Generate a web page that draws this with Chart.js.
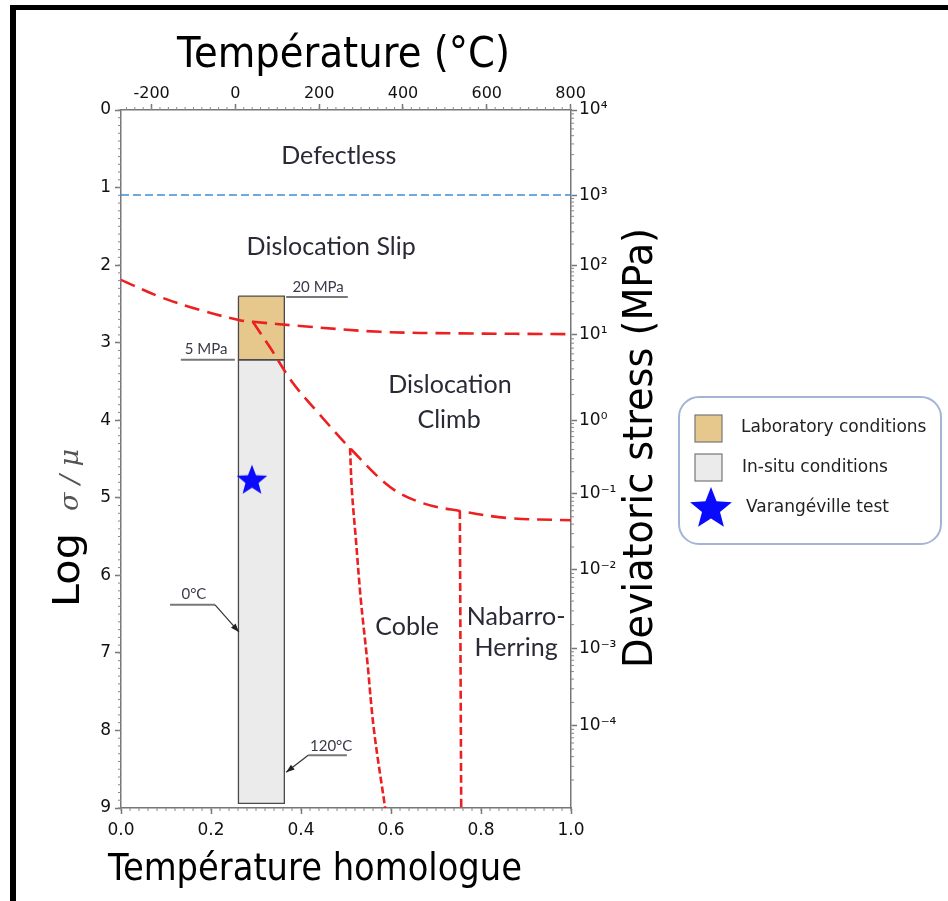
<!DOCTYPE html>
<html>
<head>
<meta charset="utf-8">
<script src="https://cdn.jsdelivr.net/npm/chart.js@4.4.1/dist/chart.umd.min.js"></script>
<style>
  html, body { margin: 0; padding: 0; background: #fff; overflow: hidden; }
  #wrap { width: 948px; height: 901px; position: relative; }
</style>
</head>
<body>
<div id="wrap"><canvas id="mapChart"></canvas></div>
<script>
// x = homologous temperature T/Tm, y = log(sigma/mu) (grows downwards)
const slipClimbT = [0, 0.087, 0.176, 0.264, 0.293, 0.398, 0.576, 0.753, 1.0];
const slipClimbLog = [2.19, 2.41, 2.58, 2.71, 2.73, 2.785, 2.86, 2.88, 2.89];

const climbDiffT = [0.293, 0.331, 0.382, 0.442, 0.509, 0.598, 0.671, 0.753, 0.858, 1.0];
const climbDiffLog = [2.73, 3.06, 3.52, 3.93, 4.36, 4.86, 5.07, 5.17, 5.26, 5.29];

const cobleT = [0.509, 0.513, 0.522, 0.533, 0.547, 0.562, 0.587];
const cobleLog = [4.36, 4.9, 5.54, 6.32, 7.09, 7.99, 9.0];

const nabarroT = [0.753, 0.756];
const nabarroLog = [5.17, 9.0];

const idealT = [0, 1.0];
const idealLog = [1.096, 1.096];

const labT = [0.261, 0.363];
const labLog = [2.40, 3.22];
const insituT = [0.261, 0.363];
const insituLog = [3.22, 8.94];

const testT = [0.291];
const testLog = [4.78];

const homTicks = [0, 0.2, 0.4, 0.6, 0.8, 1.0];
const meltK = 1074; // NaCl melting point, K
const tempTicks = [-200, 0, 200, 400, 600, 800];
const stressTickPos = [0, 1.1, 2.0, 2.9, 4.0, 4.95, 5.93, 6.94, 7.94];
const stressTickLabels = ["10⁴", "10³", "10²", "10¹", "10⁰", "10⁻¹", "10⁻²", "10⁻³", "10⁻⁴"];

// text placed on the map (data units)
const regionLabels = [
  { text: "Defectless", t: 0.484, v: 0.59 },
  { text: "Dislocation Slip", t: 0.467, v: 1.77 },
  { text: "Dislocation", t: 0.731, v: 3.55 },
  { text: "Climb", t: 0.729, v: 4.0 },
  { text: "Coble", t: 0.636, v: 6.67 },
  { text: "Nabarro-", t: 0.878, v: 6.54 },
  { text: "Herring", t: 0.878, v: 6.94 },
];
const notes = [
  { text: "20 MPa", t: 0.438, v: 2.29, from: 0.367, to: 0.504, lineV: 2.41 },
  { text: "5 MPa", t: 0.189, v: 3.09, from: 0.133, to: 0.253, lineV: 3.22 },
  { text: "0°C", t: 0.162, v: 6.24, from: 0.109, to: 0.209, lineV: 6.38, arrow: [0.209, 0.262, 6.73] },
  { text: "120°C", t: 0.467, v: 8.2, from: 0.416, to: 0.502, lineV: 8.32, arrow: [0.416, 0.367, 8.54] },
];

const pts = (ts, vs) => ts.map((t, i) => ({ x: t, y: vs[i] }));
const boxPts = (ts, vs) => [
  { x: ts[0], y: vs[0] }, { x: ts[1], y: vs[0] }, { x: ts[1], y: vs[1] },
  { x: ts[0], y: vs[1] }, { x: ts[0], y: vs[0] },
];

const makeStar = (r, color) => {
  const c = document.createElement("canvas");
  c.width = c.height = Math.ceil(r * 2 + 2);
  const g = c.getContext("2d");
  g.beginPath();
  for (let i = 0; i < 10; i++) {
    const rad = i % 2 ? r * 0.43 : r;
    const a = -Math.PI / 2 + (i * Math.PI) / 5;
    g.lineTo(c.width / 2 + rad * Math.cos(a), c.height / 2 + rad * Math.sin(a));
  }
  g.closePath();
  g.fillStyle = color;
  g.fill();
  return c;
};
const starBlue = "#0a0aff";
const chartStar = makeStar(16, starBlue);
const legendStar = makeStar(22, starBlue);

const red = "#ec2020";
const lineDs = (label, data, dash) => ({
  label, data, showLine: true, borderColor: red, borderWidth: 2.6,
  borderDash: dash, pointRadius: 0, tension: 0.35, fill: false, order: 1,
});

// --- plugins ---
const minorTicks = {
  id: "minorTicks",
  afterDraw(chart) {
    const { ctx, chartArea: a, scales } = chart;
    ctx.save();
    ctx.strokeStyle = "#888";
    ctx.lineWidth = 1;
    ctx.beginPath();
    for (let i = 0; i <= 50; i++) {
      const x = scales.x.getPixelForValue(i * 0.02);
      ctx.moveTo(x, a.bottom); ctx.lineTo(x, a.bottom + 3);
    }
    for (let c = -260; c <= 800; c += 20) {
      const x = scales.xTop.getPixelForValue(c);
      ctx.moveTo(x, a.top); ctx.lineTo(x, a.top - 3);
    }
    for (let i = 0; i <= 90; i++) {
      const y = scales.y.getPixelForValue(i * 0.1);
      ctx.moveTo(a.left, y); ctx.lineTo(a.left - 3, y);
    }
    const pos = stressTickPos.concat([stressTickPos[stressTickPos.length - 1] + 1]);
    for (let i = 0; i < pos.length - 1; i++) {
      for (let m = 2; m <= 9; m++) {
        const v = pos[i + 1] - (pos[i + 1] - pos[i]) * Math.log10(m);
        if (v > 9) continue;
        const y = scales.yRight.getPixelForValue(v);
        ctx.moveTo(a.right, y); ctx.lineTo(a.right + 3, y);
      }
    }
    ctx.stroke();
    ctx.restore();
  },
};

const fitText = (ctx, text, x, y, font, len, rot) => {
  ctx.font = font;
  const w = ctx.measureText(text).width;
  ctx.save();
  ctx.translate(x, y);
  if (rot) ctx.rotate(rot);
  ctx.scale(len / w, 1);
  ctx.textAlign = "left";
  ctx.textBaseline = "alphabetic";
  ctx.fillText(text, 0, 0);
  ctx.restore();
};

const overlay = {
  id: "overlay",
  afterDatasetsDraw(chart) {
    const { ctx, scales } = chart;
    const X = (t) => scales.x.getPixelForValue(t);
    const Y = (v) => scales.y.getPixelForValue(v);
    ctx.save();
    ctx.fillStyle = "#2a2a36";
    ctx.font = "25px Lato";
    ctx.textAlign = "center";
    ctx.textBaseline = "middle";
    regionLabels.forEach((l) => ctx.fillText(l.text, X(l.t), Y(l.v)));

    ctx.font = "15px Lato";
    notes.forEach((n) => {
      ctx.fillStyle = "#3a3a4a";
      ctx.fillText(n.text, X(n.t), Y(n.v));
      ctx.strokeStyle = "#777";
      ctx.lineWidth = 2;
      ctx.beginPath();
      ctx.moveTo(X(n.from), Y(n.lineV));
      ctx.lineTo(X(n.to), Y(n.lineV));
      ctx.stroke();
      if (n.arrow) {
        const x0 = X(n.arrow[0]), y0 = Y(n.lineV);
        const x1 = X(n.arrow[1]), y1 = Y(n.arrow[2]);
        ctx.strokeStyle = "#333";
        ctx.lineWidth = 1.2;
        ctx.beginPath(); ctx.moveTo(x0, y0); ctx.lineTo(x1, y1); ctx.stroke();
        const ang = Math.atan2(y1 - y0, x1 - x0);
        ctx.fillStyle = "#222";
        ctx.beginPath();
        ctx.moveTo(x1, y1);
        ctx.lineTo(x1 - 9 * Math.cos(ang - 0.35), y1 - 9 * Math.sin(ang - 0.35));
        ctx.lineTo(x1 - 9 * Math.cos(ang + 0.35), y1 - 9 * Math.sin(ang + 0.35));
        ctx.closePath(); ctx.fill();
      }
    });
    ctx.restore();
  },
  afterDraw(chart) {
    const { ctx, chartArea: a } = chart;
    ctx.save();
    ctx.fillStyle = "#000";
    // axis titles
    fitText(ctx, "Température (°C)", a.left + 56, 67, "43px 'DejaVu Sans'", 333);
    fitText(ctx, "Température homologue", a.left - 13, 880, "37px 'DejaVu Sans'", 414);
    fitText(ctx, "Log", 79, 607, "38px 'DejaVu Sans'", 74, -Math.PI / 2);
    ctx.fillStyle = "#555";
    fitText(ctx, "σ / μ", 78, 511, "italic 26px 'DejaVu Serif'", 62, -Math.PI / 2);
    ctx.fillStyle = "#000";
    fitText(ctx, "Deviatoric stress (MPa)", a.right + 81, 668, "40px 'DejaVu Sans'", 440, -Math.PI / 2);

    // legend
    const ds = chart.data.datasets;
    const lab = ds.find((d) => d.label === "Laboratory conditions");
    const ins = ds.find((d) => d.label === "In-situ conditions");
    ctx.beginPath();
    ctx.roundRect(679, 397, 262, 147, 20);
    ctx.fillStyle = "#fff"; ctx.fill();
    ctx.strokeStyle = "#a3b5d4"; ctx.lineWidth = 2; ctx.stroke();
    ctx.lineWidth = 1.2; ctx.strokeStyle = "#777";
    ctx.fillStyle = lab.backgroundColor;
    ctx.fillRect(695, 415, 27, 27); ctx.strokeRect(695, 415, 27, 27);
    ctx.fillStyle = ins.backgroundColor;
    ctx.fillRect(695, 454, 27, 27); ctx.strokeRect(695, 454, 27, 27);
    ctx.drawImage(legendStar, 711 - legendStar.width / 2, 509 - legendStar.height / 2);
    ctx.fillStyle = "#222";
    ctx.font = "17px 'DejaVu Sans'";
    ctx.textBaseline = "middle";
    ctx.textAlign = "left";
    ctx.fillText(lab.label, 741, 428);
    ctx.fillText(ins.label, 742, 468);
    ctx.fillText("Varangéville test", 746, 508);

    // picture frame
    ctx.fillStyle = "#000";
    ctx.fillRect(10, 5, chart.width - 10, 5);
    ctx.fillRect(10, 5, 6, chart.height - 5);
    ctx.restore();
  },
};

const tickFont = { family: "DejaVu Sans", size: 16 };
const axisGrid = { drawOnChartArea: false, tickLength: 6, color: "#777", tickWidth: 1.5 };
const axisBorder = { color: "#777", width: 1.5 };

new Chart(document.getElementById("mapChart"), {
  type: "scatter",
  data: {
    datasets: [
      {
        label: "Varangéville test", data: pts(testT, testLog), pointStyle: chartStar,
        pointRadius: 16, showLine: false, order: 0,
      },
      lineDs("Slip / climb", pts(slipClimbT, slipClimbLog), [15, 8]),
      lineDs("Climb / diffusion", pts(climbDiffT, climbDiffLog), [15, 8]),
      lineDs("Coble / Nabarro-Herring", pts(cobleT, cobleLog), [7, 3]),
      lineDs("Nabarro-Herring", pts(nabarroT, nabarroLog), [8, 4]),
      {
        label: "Theoretical strength", data: pts(idealT, idealLog), showLine: true,
        borderColor: "#3f8fd2", borderWidth: 1.6, borderDash: [8, 4], pointRadius: 0, order: 1,
      },
      {
        label: "Laboratory conditions", data: boxPts(labT, labLog), showLine: true, fill: "shape",
        backgroundColor: "#e6c78c", borderColor: "#4a4a4a", borderWidth: 1.3, pointRadius: 0, tension: 0, order: 2,
      },
      {
        label: "In-situ conditions", data: boxPts(insituT, insituLog), showLine: true, fill: "shape",
        backgroundColor: "#ebebeb", borderColor: "#4a4a4a", borderWidth: 1.3, pointRadius: 0, tension: 0, order: 2,
      },
    ],
  },
  options: {
    responsive: true,
    maintainAspectRatio: false,
    animation: false,
    events: [],
    layout: { padding: 0 },
    plugins: { legend: { display: false }, tooltip: { enabled: false } },
    scales: {
      x: {
        type: "linear", position: "bottom", min: 0, max: 1,
        afterBuildTicks: (s) => { s.ticks = homTicks.map((v) => ({ value: v })); },
        ticks: { callback: (v) => v.toFixed(1), font: { family: "DejaVu Sans", size: 17 }, color: "#111", padding: 6, maxRotation: 0, autoSkip: false },
        grid: axisGrid, border: axisBorder,
        afterFit: (s) => { s.height = 93; },
      },
      xTop: {
        type: "linear", position: "top", min: -273, max: meltK - 273,
        afterBuildTicks: (s) => { s.ticks = tempTicks.map((v) => ({ value: v })); },
        ticks: { font: { family: "DejaVu Sans", size: 16 }, color: "#111", padding: 1, maxRotation: 0, autoSkip: false },
        grid: axisGrid, border: axisBorder,
        afterFit: (s) => { s.height = 110; },
      },
      y: {
        type: "linear", position: "left", min: 0, max: 9, reverse: true,
        ticks: { stepSize: 1, font: { family: "DejaVu Sans", size: 17 }, color: "#111", padding: 4, autoSkip: false },
        grid: axisGrid, border: axisBorder,
        afterFit: (s) => { s.width = 121; },
      },
      yRight: {
        type: "linear", position: "right", min: 0, max: 9, reverse: true,
        afterBuildTicks: (s) => { s.ticks = stressTickPos.map((v) => ({ value: v })); },
        ticks: { callback: (v, i) => stressTickLabels[i], font: { family: "DejaVu Sans", size: 17 }, color: "#111", padding: 2, autoSkip: false },
        grid: axisGrid, border: axisBorder,
        afterFit: (s) => { s.width = 377; },
      },
    },
  },
  plugins: [minorTicks, overlay],
});
</script>
</body>
</html>
